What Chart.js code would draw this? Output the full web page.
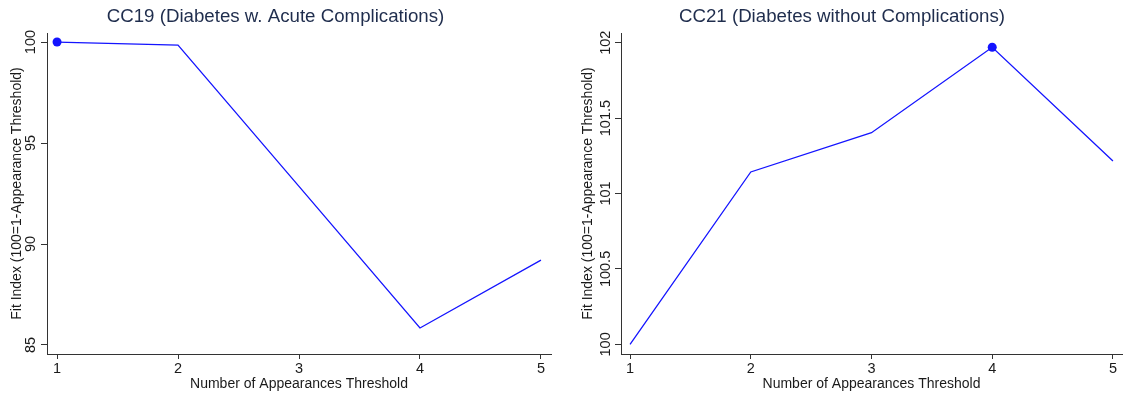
<!DOCTYPE html>
<html>
<head>
<meta charset="utf-8">
<script src="https://cdn.jsdelivr.net/npm/chart.js@4/dist/chart.umd.min.js"></script>
<style>
  html, body { margin: 0; padding: 0; background: #ffffff; }
  #wrap { position: relative; width: 1124px; height: 396px; }
  canvas { position: absolute; top: 0; }
  #c1 { left: 0; }
  #c2 { left: 562px; }
</style>
</head>
<body>
<div id="wrap">
  <canvas id="c1" width="562" height="396"></canvas>
  <canvas id="c2" width="562" height="396"></canvas>
</div>
<script>
// ---- data ----
const thresholds = [1, 2, 3, 4, 5];
const xTicks = [1, 2, 3, 4, 5];

const titleLeft = "CC19 (Diabetes w. Acute Complications)";
const valuesLeft = [100, 99.85, 92.85, 85.84, 89.2];
const yTicksLeft = [85, 90, 95, 100];

const titleRight = "CC21 (Diabetes without Complications)";
const valuesRight = [100, 101.143, 101.403, 101.97, 101.216];
const yTicksRight = [100, 100.5, 101, 101.5, 102];

const yTitle = "Fit Index (100=1-Appearance Threshold)";
const xTitle = "Number of Appearances Threshold";

// ---- style ----
const FONT = "'Liberation Sans', Arial, Helvetica, sans-serif";
const LINE = "#1414ff";
const AXIS = "#333333";
const TEXT = "#1a1a1a";
Chart.defaults.font.family = FONT;

const rotatedYLabels = {
  id: 'rotatedYLabels',
  afterDraw(chart, args, opts) {
    const s = chart.scales.y;
    const ctx = chart.ctx;
    ctx.save();
    ctx.font = "14.5px " + FONT;
    ctx.fillStyle = TEXT;
    ctx.textAlign = 'center';
    ctx.textBaseline = 'alphabetic';
    s.ticks.forEach((t) => {
      const y = s.getPixelForValue(t.value);
      const x = chart.chartArea.left - opts.gap;
      ctx.save();
      ctx.translate(x, y);
      ctx.rotate(-Math.PI / 2);
      ctx.fillText(String(t.value), 0, 0);
      ctx.restore();
    });
    ctx.restore();
  }
};

function makeChart(id, title, values, yTicks, cfg) {
  const maxV = Math.max(...values);
  return new Chart(document.getElementById(id), {
    type: 'line',
    data: {
      datasets: [{
        data: thresholds.map((x, i) => ({ x: x, y: values[i] })),
        borderColor: LINE,
        backgroundColor: LINE,
        borderWidth: 1.3,
        tension: 0,
        pointRadius: c => (c.raw && c.raw.y === maxV ? 4.5 : 0),
        pointHoverRadius: 0,
        pointBorderWidth: 0,
        fill: false
      }]
    },
    options: {
      responsive: false,
      animation: false,
      devicePixelRatio: 1,
      layout: { padding: { left: 0, right: cfg.padRight, top: 0, bottom: 0 } },
      plugins: {
        legend: { display: false },
        tooltip: { enabled: false },
        title: {
          display: true,
          text: title,
          color: '#1f2d4d',
          font: { size: 18.7, weight: 'normal', family: FONT },
          padding: { top: 5.5, bottom: 5.1 }
        },
        rotatedYLabels: { gap: cfg.labelGap }
      },
      scales: {
        x: {
          type: 'linear',
          min: cfg.xMin,
          max: cfg.xMax,
          afterBuildTicks: s => { s.ticks = xTicks.map(v => ({ value: v })); },
          afterFit: s => { s.height = 42; },
          grid: { drawOnChartArea: false, drawTicks: true, tickLength: 5, color: AXIS },
          border: { display: true, color: AXIS, width: 1 },
          ticks: { color: TEXT, font: { size: 14.5 }, padding: 1.5, maxRotation: 0, autoSkip: false },
          title: { display: true, text: xTitle, color: TEXT, font: { size: 14 }, padding: { top: 0, bottom: 3 } }
        },
        y: {
          type: 'linear',
          min: cfg.yMin,
          max: cfg.yMax,
          afterBuildTicks: s => { s.ticks = yTicks.map(v => ({ value: v })); },
          afterFit: s => { s.width = cfg.yWidth; },
          grid: { drawOnChartArea: false, drawTicks: true, tickLength: 6, color: AXIS },
          border: { display: true, color: AXIS, width: 1 },
          ticks: { color: 'rgba(0,0,0,0)', font: { size: 14 }, autoSkip: false },
          title: { display: true, text: yTitle, color: TEXT, font: { size: 14 }, padding: { top: cfg.yTitlePad, bottom: 0 } }
        }
      }
    },
    plugins: [rotatedYLabels]
  });
}

makeChart('c1', titleLeft, valuesLeft, yTicksLeft, {
  xMin: 0.917, xMax: 5.083, yMin: 84.554, yMax: 100.446,
  yWidth: 47, padRight: 11, labelGap: 12, yTitlePad: 9
});
makeChart('c2', titleRight, valuesRight, yTicksRight, {
  xMin: 0.925, xMax: 5.075, yMin: 99.936, yMax: 102.064,
  yWidth: 59, padRight: 2, labelGap: 11.5, yTitlePad: 17.6
});
</script>
</body>
</html>
